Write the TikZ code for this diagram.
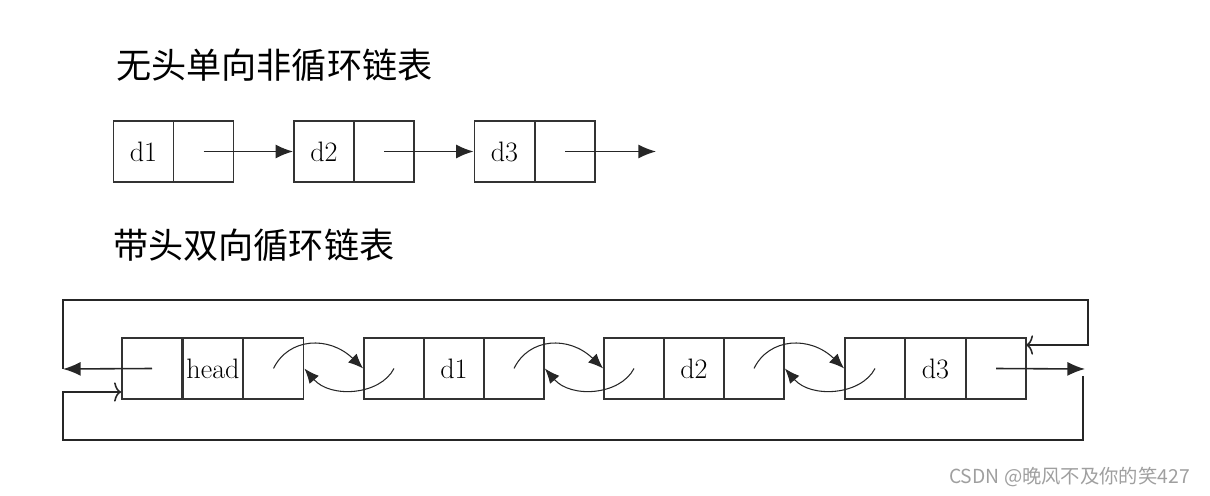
\documentclass[tikz,border=0pt]{standalone}
\usepackage{fontspec}
\newfontfamily\cjk{Noto Sans CJK SC}
\usetikzlibrary{arrows.meta}
\tikzset{
cell/.style={draw=black!80,line width=1pt,minimum width=1.2cm,minimum height=1.22cm,inner sep=0pt,font=\fontsize{16}{19}\selectfont},
link/.style={line width=.9pt,draw=black!85,-{Latex[length=10pt,width=8pt]}},
back/.style={line width=.6pt,draw=black!85,-{Latex[length=8.5pt,width=7pt]}},
open/.style={line width=.9pt,draw=black!85,-{To[length=4pt,width=11pt]}}
}
\begin{document}
\begin{tikzpicture}[x=0.02cm,y=-0.02cm]
\useasboundingbox (0,0) rectangle (1210,496);
\node[anchor=west,font=\cjk\fontsize{20}{24}\selectfont] (t1) at (110,65) {无头单向非循环链表};
\node[anchor=west,font=\cjk\fontsize{20}{24}\selectfont] (t2) at (107,245) {带头双向循环链表};
\node[cell] (a1) at (143.5,151.5) {d1};
\node[cell] (a1n) at (203.5,151.5) {};
\node[cell] (a2) at (324,151.5) {d2};
\node[cell] (a2n) at (384,151.5) {};
\node[cell] (a3) at (504.5,151.5) {d3};
\node[cell] (a3n) at (565,151.5) {};
\coordinate (nil) at (656,151.5);
\draw[link] (a1n.center) -- (a2.west);
\draw[link] (a2n.center) -- (a3.west);
\draw[link] (a3n.center) -- (nil);
\node[cell] (hp) at (152,368.5) {};
\node[cell] (hd) at (213,368.5) {head};
\node[cell] (hn) at (273.5,368.5) {};
\node[cell] (p1) at (394,368.5) {};
\node[cell] (d1) at (454,368.5) {d1};
\node[cell] (n1) at (514,368.5) {};
\node[cell] (p2) at (634,368.5) {};
\node[cell] (d2) at (694,368.5) {d2};
\node[cell] (n2) at (754,368.5) {};
\node[cell] (p3) at (875,368.5) {};
\node[cell] (d3) at (935.5,368.5) {d3};
\node[cell] (n3) at (996,368.5) {};
\draw[back] (hn.center) .. controls +(15,-31) and +(-34,-33) .. (p1.west);
\draw[back] (p1.center) .. controls +(-14,27) and +(26,30) .. (hn.east);
\draw[back] (n1.center) .. controls +(15,-31) and +(-34,-33) .. (p2.west);
\draw[back] (p2.center) .. controls +(-14,27) and +(26,30) .. (n1.east);
\draw[back] (n2.center) .. controls +(15,-31) and +(-34,-33) .. (p3.west);
\draw[back] (p3.center) .. controls +(-14,27) and +(26,30) .. (n2.east);
\coordinate (la) at (63,369);
\coordinate (tr) at (1088,300);
\coordinate (ra) at (1026,345);
\coordinate (rb) at (1085,369);
\coordinate (br) at (1083,376);
\coordinate (bl) at (63,440);
\coordinate (lb) at (63,392);
\draw[link] (hp.center) -- (la);
\draw[open] (la) |- (tr) |- (ra);
\draw[link] (n3.center) -- (rb);
\draw[open] (br) |- (bl) -- (lb) -- (hp.west |- lb);
\node[anchor=east,text=gray!75,font=\cjk\fontsize{11}{13}\selectfont] (wm) at (1196,477) {CSDN @晚风不及你的笑427};
\end{tikzpicture}
\end{document}
